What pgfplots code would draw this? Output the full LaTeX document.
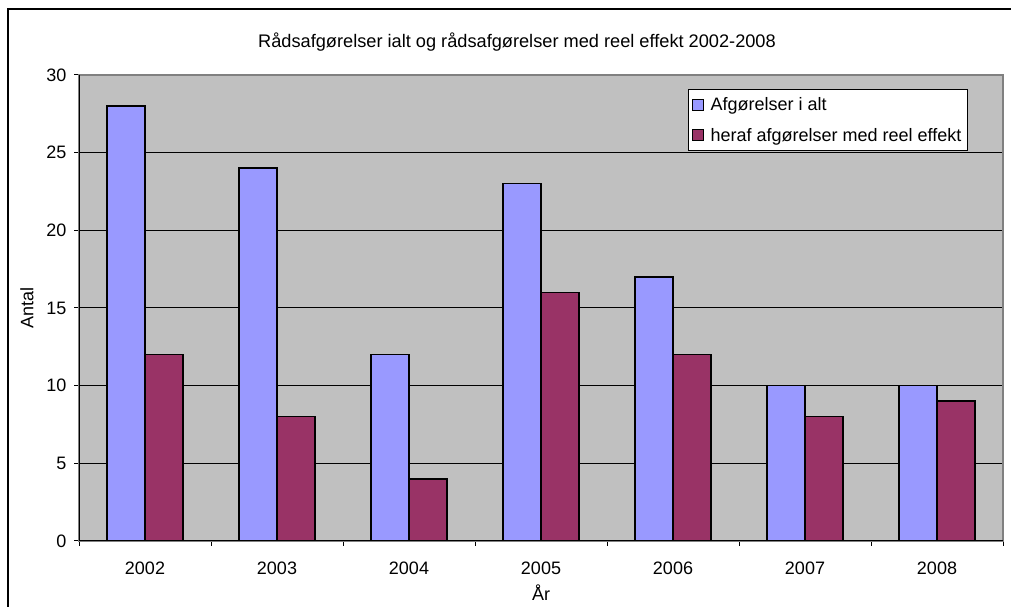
\documentclass[border=0pt]{standalone}
\usepackage{fontspec}
\setmainfont{Liberation Sans}
\usepackage{pgfplots}
\pgfplotsset{compat=1.18}
\definecolor{plotbg}{HTML}{C0C0C0}
\definecolor{barblue}{HTML}{9999FF}
\definecolor{barmaroon}{HTML}{993366}
\definecolor{frameGray}{HTML}{808080}
\newcommand{\chartfont}{\fontsize{18}{21}\selectfont}
\begin{document}
\begin{tikzpicture}[x=1pt,y=1pt]
\useasboundingbox (0,0) rectangle (1011,607);
\draw[line width=1.5pt] (8,-5) -- (8,598) -- (1016,598);
\node[font=\fontsize{18.2}{21}\selectfont, anchor=center] at (517,565) {Rådsafgørelser ialt og rådsafgørelser med reel effekt 2002-2008};
\begin{axis}[
  at={(145pt,66pt)}, anchor=origin,
  width=924pt, height=466pt, scale only axis,
  xmin=-0.5, xmax=6.5, ymin=0, ymax=30,
  xtick={-0.5,0.5,...,6.5},
  x tick label as interval=true,
  xticklabels={2002,2003,2004,2005,2006,2007,2008},
  ytick={0,5,...,30},
  tick align=outside, major tick length=5pt,
  tick style={black, line width=1pt},
  xtick pos=bottom, ytick pos=left,
  ymajorgrids, grid style={black, line width=1pt},
  axis background/.style={fill=plotbg},
  axis line style={frameGray, line width=1.2pt},
  ticklabel style={font=\chartfont},
  /pgf/number format/assume math mode=true,
  xticklabel style={yshift=-12pt},
  yticklabel style={xshift=-4pt},
  ylabel={Antal}, xlabel={År},
  every axis y label/.style={at={(rel axis cs:0,0.5)}, xshift=-52pt, rotate=90, anchor=center, font=\chartfont},
  every axis x label/.style={at={(rel axis cs:0.5,0)}, yshift=-52pt, anchor=center, font=\chartfont},
  ybar, bar width=38pt,
  legend style={at={(rel axis cs:0.659,0.970)}, anchor=north west, fill=white, draw=black, line width=1pt,
     font=\chartfont, row sep=12pt, inner xsep=4pt, inner ysep=6pt},
  legend cell align=left,
  legend image code/.code={\draw[#1, line width=1pt] (0pt,-5.5pt) rectangle (11pt,5.5pt); \path (15pt,0pt);},
]
\addplot[fill=barblue, draw=black, line width=1.5pt, bar shift=-19pt] coordinates {(0,28) (1,24) (2,12) (3,23) (4,17) (5,10) (6,10)};
\addplot[fill=barmaroon, draw=black, line width=1.5pt, bar shift=19pt] coordinates {(0,12) (1,8) (2,4) (3,16) (4,12) (5,8) (6,9)};
\legend{Afgørelser i alt, heraf afgørelser med reel effekt}
\draw[black, line width=1.2pt] (rel axis cs:0,0) -- (rel axis cs:0,1);
\draw[black, line width=1.2pt] (rel axis cs:0,0) -- (rel axis cs:1,0);
\end{axis}
\end{tikzpicture}
\end{document}
